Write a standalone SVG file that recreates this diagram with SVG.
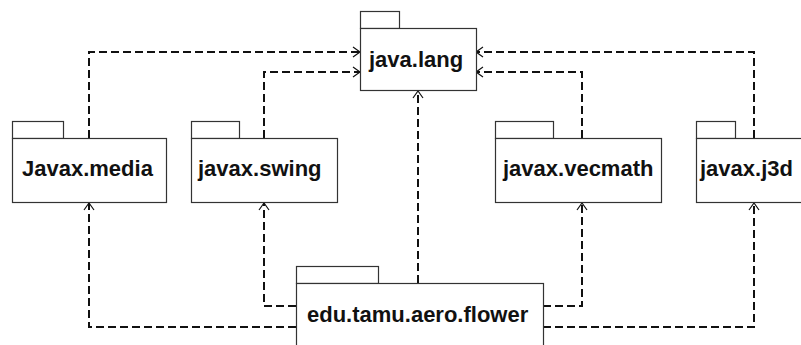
<svg xmlns="http://www.w3.org/2000/svg" width="801" height="345" viewBox="0 0 801 345">
  <style>
    .pkg { fill: #ffffff; stroke: #333333; stroke-width: 1.2; }
    .lbl { font-family: "Liberation Sans", Arial, sans-serif; font-weight: bold; font-size: 22px; fill: #111111; }
    .dep { fill: none; stroke: #111111; stroke-width: 2; stroke-dasharray: 8 4; marker-end: url(#open); }
  </style>
  <defs>
    <marker id="open" markerUnits="userSpaceOnUse" markerWidth="16" markerHeight="16" viewBox="-10 -8 12 16" refX="0" refY="0" orient="auto">
      <path d="M-7,-5 L0,0 L-7,5" fill="none" stroke="#111111" stroke-width="1.2" stroke-dasharray="none"/>
    </marker>
  </defs>
  <rect width="801" height="345" fill="#ffffff"/>

  <g id="connectors">
    <polyline class="dep" points="89,138 89,52 360,52"/>
    <polyline class="dep" points="264,138 264,72 360,72"/>
    <polyline class="dep" points="582,138 582,72 476,72"/>
    <polyline class="dep" points="754,138 754,52 476,52"/>
    <polyline class="dep" points="418,283 418,91"/>
    <polyline class="dep" points="296,327 89,327 89,203"/>
    <polyline class="dep" points="296,306 264,306 264,203"/>
    <polyline class="dep" points="543,306 582,306 582,203"/>
    <polyline class="dep" points="543,327 754,327 754,203"/>
  </g>

  <g id="java_lang">
    <rect class="pkg" x="360.5" y="11.5" width="39" height="17"/>
    <rect class="pkg" x="360.5" y="28.5" width="116" height="62"/>
    <text class="lbl" x="369" y="67">java.lang</text>
  </g>

  <g id="javax_media">
    <rect class="pkg" x="12.5" y="121.5" width="51" height="17"/>
    <rect class="pkg" x="12.5" y="138.5" width="154" height="64"/>
    <text class="lbl" x="22" y="176">Javax.media</text>
  </g>

  <g id="javax_swing">
    <rect class="pkg" x="191.5" y="121.5" width="48" height="17"/>
    <rect class="pkg" x="191.5" y="138.5" width="146" height="64"/>
    <text class="lbl" x="198" y="176">javax.swing</text>
  </g>

  <g id="javax_vecmath">
    <rect class="pkg" x="495.5" y="121.5" width="58" height="17"/>
    <rect class="pkg" x="495.5" y="138.5" width="166" height="64"/>
    <text class="lbl" x="503" y="176">javax.vecmath</text>
  </g>

  <g id="javax_j3d">
    <rect class="pkg" x="696.5" y="121.5" width="39" height="17"/>
    <rect class="pkg" x="696.5" y="138.5" width="120" height="64"/>
    <text class="lbl" x="700" y="176">javax.j3d</text>
  </g>

  <g id="edu_tamu_aero_flower">
    <rect class="pkg" x="296.5" y="266.5" width="82" height="17"/>
    <rect class="pkg" x="296.5" y="283.5" width="247" height="80"/>
    <text class="lbl" x="307" y="322">edu.tamu.aero.flower</text>
  </g>
</svg>
